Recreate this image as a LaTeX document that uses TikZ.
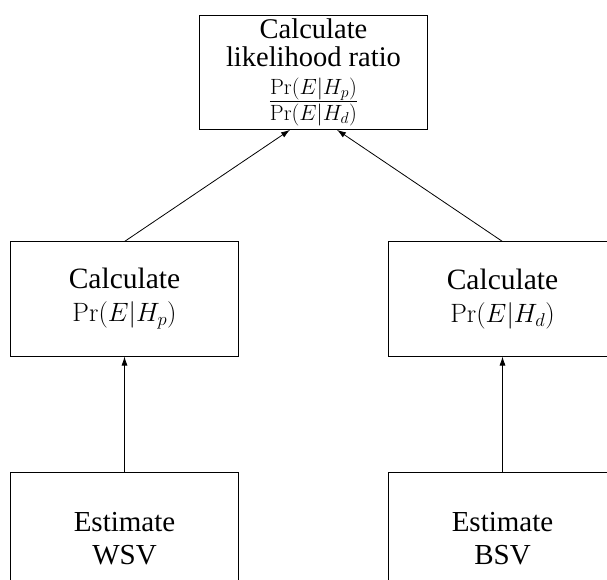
\RequirePackage{fix-cm}
\documentclass[tikz,border=0pt]{standalone}
\usepackage[no-math]{fontspec}
\setmainfont{Liberation Serif}
\usetikzlibrary{arrows.meta}
\begin{document}
\begin{tikzpicture}[x=1pt,y=1pt,
  box/.style={draw=black,line width=1pt,inner sep=0pt,align=center,minimum width=228pt},
  topbox/.style={box,minimum height=114.3pt,font=\rmfamily\fontsize{28.5}{28}\selectfont},
  midbox/.style={box,minimum height=114pt,font=\rmfamily\fontsize{29.5}{33}\selectfont},
  botbox/.style={box,minimum height=134pt,font=\rmfamily\fontsize{29}{33}\selectfont},
  arr/.style={-{Latex[length=9pt,width=6pt]},line width=0.8pt}]
\useasboundingbox (0,0) rectangle (607,579);
\clip (0,0) rectangle (607,579);
\node[topbox] (top) at (313.5,506.8) {Calculate\\likelihood ratio\\[10pt]{\fontsize{31.5}{28}\selectfont$\frac{\Pr(E|H_p)}{\Pr(E|H_d)}$}};
\node[midbox] (ml) at (124.5,280) {Calculate\\{\fontsize{26.5}{33}\selectfont$\Pr(E|H_p)$}};
\node[midbox] (mr) at (502.5,280) {Calculate\\{\fontsize{26.5}{33}\selectfont$\Pr(E|H_d)$}};
\node[botbox] (bl) at (124.5,40) {Estimate\\WSV};
\node[botbox] (br) at (502.5,40) {Estimate\\BSV};
\coordinate (tl) at ([xshift=-23.5pt]top.south);
\coordinate (tr) at ([xshift=23.5pt]top.south);
\draw[arr] (bl.north) -- (ml.south);
\draw[arr] (br.north) -- (mr.south);
\draw[arr] (ml.north) -- (tl);
\draw[arr] (mr.north) -- (tr);
\end{tikzpicture}
\end{document}
